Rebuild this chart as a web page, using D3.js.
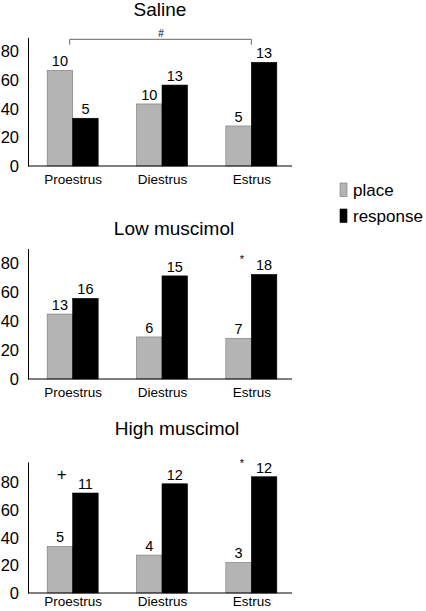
<!DOCTYPE html>
<html>
<head>
<meta charset="utf-8">
<script src="https://cdn.jsdelivr.net/npm/d3@7"></script>
<style>
  html, body { margin: 0; padding: 0; background: #fff; }
  svg { display: block; font-family: "Liberation Sans", Arial, Helvetica, sans-serif; }
</style>
</head>
<body>
<svg id="chart" width="426" height="611"></svg>
<script>
// ---- data ----
const categories = ["Proestrus", "Diestrus", "Estrus"];
const seriesNames = ["place", "response"];
const panelTitles = ["Saline", "Low muscimol", "High muscimol"];
const yTicks = [0, 20, 40, 60, 80];
const yMax = [90, 90, 95];

const salinePlace = [66.9, 43.4, 28.0];
const salineResponse = [33.4, 56.6, 72.5];
const salinePlaceN = ["10", "10", "5"];
const salineResponseN = ["5", "13", "13"];

const lowPlace = [44.8, 29.0, 28.1];
const lowResponse = [55.6, 71.1, 72.1];
const lowPlaceN = ["13", "6", "7"];
const lowResponseN = ["16", "15", "18"];

const highPlace = [33.8, 27.5, 22.2];
const highResponse = [72.5, 79.2, 84.3];
const highPlaceN = ["5", "4", "3"];
const highResponseN = ["11", "12", "12"];

const panels = [
  { title: panelTitles[0], place: salinePlace, response: salineResponse, placeN: salinePlaceN, responseN: salineResponseN, max: yMax[0] },
  { title: panelTitles[1], place: lowPlace, response: lowResponse, placeN: lowPlaceN, responseN: lowResponseN, max: yMax[1] },
  { title: panelTitles[2], place: highPlace, response: highResponse, placeN: highPlaceN, responseN: highResponseN, max: yMax[2] }
];

// ---- layout ----
const layout = [
  { base: 166, top: 37.3, titleX: 160, titleY: 16, pad: 8 },
  { base: 379, top: 248.5, titleX: 174, titleY: 235, pad: 8 },
  { base: 593, top: 462, titleX: 177, titleY: 435, pad: 3 }
];
const axisX = 28, axisRight = 292;
const colors = { place: "#b4b4b4", response: "#000000" };

const svg = d3.select("#chart");

const x = d3.scalePoint().domain(categories).range([axisX, 296]).padding(0.5);
const xs = d3.scaleBand().domain(seriesNames).range([-25.5, 25.5]).paddingInner(0);

panels.forEach((p, i) => {
  const L = layout[i];
  const y = d3.scaleLinear().domain([0, p.max]).range([L.base, L.top]);
  const g = svg.append("g");

  // title
  g.append("text").attr("x", L.titleX).attr("y", L.titleY)
    .attr("text-anchor", "middle").attr("font-size", 19).attr("fill", "#000").text(p.title);

  // bars
  const rows = [];
  categories.forEach((c, j) => {
    rows.push({ cat: c, s: "place", v: p.place[j], n: p.placeN[j] });
    rows.push({ cat: c, s: "response", v: p.response[j], n: p.responseN[j] });
  });
  g.selectAll("rect.bar").data(rows).join("rect")
    .attr("class", "bar")
    .attr("x", d => x(d.cat) + xs(d.s))
    .attr("width", xs.bandwidth())
    .attr("y", d => y(d.v))
    .attr("height", d => y(0) - y(d.v))
    .attr("fill", d => colors[d.s])
    .attr("stroke", d => d.s === "place" ? "#777" : "#000")
    .attr("stroke-width", 0.6);

  g.selectAll("text.n").data(rows).join("text")
    .attr("class", "n")
    .attr("x", d => x(d.cat) + xs(d.s) + xs.bandwidth() / 2)
    .attr("y", d => y(d.v) - 4)
    .attr("text-anchor", "middle").attr("font-size", 14.5).attr("fill", "#000")
    .text(d => d.n);

  // y axis
  const ya = g.append("g").attr("transform", `translate(${axisX},0)`)
    .call(d3.axisLeft(y).tickValues(yTicks).tickSize(0).tickPadding(9).tickFormat(d3.format("d")));
  ya.select(".domain").attr("stroke", "#000").attr("stroke-width", 1);
  ya.selectAll("text").attr("font-size", 16.5).attr("fill", "#000").attr("font-family", null);

  // x axis
  const xa = g.append("g").attr("transform", `translate(0,${L.base})`)
    .call(d3.axisBottom(x).tickSize(0).tickPadding(L.pad));
  xa.select(".domain").remove();
  xa.append("line").attr("x1", axisX).attr("x2", axisRight).attr("stroke", "#000").attr("stroke-width", 1);
  xa.selectAll("text").attr("font-size", 13.5).attr("fill", "#000").attr("font-family", null);

  // annotations
  if (i === 0) {
    const bx1 = x("Proestrus") - 3, bx2 = x("Estrus");
    const by = y(p.max) + 2;
    g.append("path")
      .attr("d", `M${bx1},${by + 5.5}V${by}H${bx2}V${by + 5.5}`)
      .attr("fill", "none").attr("stroke", "#666").attr("stroke-width", 1);
    g.append("text").attr("x", (bx1 + bx2) / 2 + 0.5).attr("y", by - 2.5)
      .attr("text-anchor", "middle").attr("font-size", 10).attr("fill", "#000").text("#");
  }
  if (i === 1 || i === 2) {
    g.append("text").attr("x", x("Estrus") - 9.5).attr("y", i === 1 ? 262.5 : 466.5)
      .attr("text-anchor", "middle").attr("font-size", 11).attr("fill", "#000").text("*");
  }
  if (i === 2) {
    g.append("text").attr("x", x("Proestrus") - 11).attr("y", 480)
      .attr("text-anchor", "middle").attr("font-size", 17).attr("fill", "#000").text("+");
  }
});

// legend
const leg = svg.append("g");
seriesNames.forEach((s, k) => {
  const yy = 183 + k * 26;
  leg.append("rect").attr("x", 340).attr("y", yy).attr("width", 7).attr("height", 13.5)
    .attr("fill", colors[s]).attr("stroke", s === "place" ? "#777" : "#000").attr("stroke-width", 0.6);
  leg.append("text").attr("x", 353).attr("y", yy + 12.5).attr("font-size", 17).attr("fill", "#000").text(s);
});
</script>
</body>
</html>
